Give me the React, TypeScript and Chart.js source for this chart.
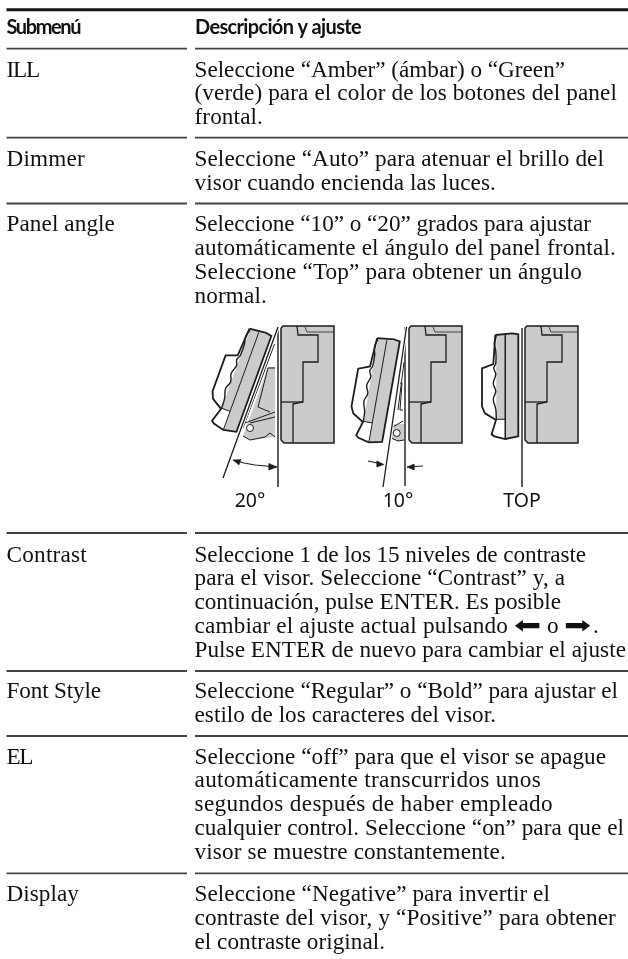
import React, { useEffect, useRef } from "react";
import { Chart, registerables } from "chart.js";

Chart.register(...registerables);

type P = [number, number];

const headers = ["Submenú", "Descripción y ajuste"];
const submenus = ["ILL", "Dimmer", "Panel angle", "Contrast", "Font Style", "EL", "Display"];
const ill = ["Seleccione “Amber” (ámbar) o “Green”", "(verde) para el color de los botones del panel", "frontal."];
const dimmer = ["Seleccione “Auto” para atenuar el brillo del", "visor cuando encienda las luces."];
const panelAngle = ["Seleccione “10” o “20” grados para ajustar", "automáticamente el ángulo del panel frontal.", "Seleccione “Top” para obtener un ángulo", "normal."];
const contrast = ["Seleccione 1 de los 15 niveles de contraste", "para el visor. Seleccione “Contrast” y, a", "continuación, pulse ENTER. Es posible", "cambiar el ajuste actual pulsando ⬅ o ➡.", "Pulse ENTER de nuevo para cambiar el ajuste"];
const fontStyle = ["Seleccione “Regular” o “Bold” para ajustar el", "estilo de los caracteres del visor."];
const el = ["Seleccione “off” para que el visor se apague", "automáticamente transcurridos unos", "segundos después de haber empleado", "cualquier control. Seleccione “on” para que el", "visor se muestre constantemente."];
const display = ["Seleccione “Negative” para invertir el", "contraste del visor, y “Positive” para obtener", "el contraste original."];
const descriptions = [ill, dimmer, panelAngle, contrast, fontStyle, el, display];
const angleLabels = ["20°", "10°", "TOP"];

// layout
const rowBaselines = [76.5, 166, 231, 561.5, 698, 763.5, 901];
const ruleLevels = [48.7, 137.7, 203.5, 533, 671, 736, 873.3];
const labelCentres = [250, 398, 522];
const headerEnds = [80, 361];
const submenuEnds = [39, 85, 115, 87, 101, 32, 79];
const lineEnds = [
  [565, 617, 263],
  [604, 496],
  [591, 616, 582, 267],
  [586, 565, 561, 508, 626],
  [618, 496],
  [606, 541, 553, 624, 506],
  [550, 616, 385],
];
const arrowLinePieceStarts = [194.5, 514, 547, 564, 593];

const bodyOutline: P[] = [[0, 2], [2, 0], [53, 0], [53, 117], [3, 117], [0, 114], [0, 2]];
const bodyStep: P[] = [[16, 0], [17, 9], [37, 9], [37, 36], [22, 36], [22, 76], [12, 78], [12, 117]];
const bodyLedge: P[] = [[0, 76], [22, 76]];
const bodySlot: P[] = [[24, 1], [26, 6], [53, 6]];
const bodyOrigins: P[] = [[281, 326], [409, 326], [525, 326]];

const panelOutline: P[] = [[-23, 1.7], [-6, 0], [0, 1], [0, 103], [-13, 105.7], [-24, 103], [-26.7, 101], [-22.3, 86.7], [-33.3, 80], [-36.3, 73.3], [-36.3, 35], [-25, 30.7], [-23, 1.7]];
const panelBand: P[] = [[-22, 2], [0, 1], [0, 103], [-13, 105.5], [-13, 86], [-22, 86], [-22, 2]];
const panelLine: P[] = [[-13, 2], [-13, 105]];
const panelRidges: P[] = [[-22, 3], [-24, 10], [-22.5, 18], [-22.5, 30], [-24.5, 35], [-22.5, 41], [-25, 50], [-22.5, 58], [-25, 66], [-22.5, 76], [-22, 86]];
const panelSeam: P[] = [[-22, 86], [-13, 86]];
const panelPlacements: { corner: P; deg: number }[] = [
  { corner: [271.7, 335], deg: 20 },
  { corner: [400, 340.5], deg: 10 },
  { corner: [518.3, 333.3], deg: 0 },
];

const plumbLines: P[][] = [
  [[278, 327], [278, 487]],
  [[405, 327], [405, 486]],
  [[522, 328], [522, 487]],
];
const tiltLines: P[][] = [
  [[278, 327], [223, 478]],
  [[406.5, 327], [383, 487]],
];
const innerTilt: P[][] = [
  [[274.5, 344], [243, 428]],
  [[404, 362], [398, 410]],
];
const mechFills: P[][] = [
  [[275, 367], [268, 367], [246, 428], [243, 436], [250, 440], [275, 437], [275, 367]],
  [[404, 424], [392, 424], [390, 438], [398, 441], [404, 440], [404, 424]],
];
const mechLines: P[][] = [
  [[275, 368], [268, 368], [258, 407], [270, 412]],
  [[245, 423], [275, 412]],
  [[250, 423], [275, 417]],
  [[243, 436], [250, 440], [265, 437], [270, 433], [275, 437]],
  [[400, 383], [402, 383], [400, 410], [403, 410]],
  [[393, 427], [403, 421]],
  [[391, 438], [398, 441], [404, 440]],
];
const arc20: P[] = [[233, 460], [244, 463], [255, 465], [266, 466], [277, 467]];
const ticks10: P[][] = [
  [[368, 461], [382, 464]],
  [[423, 466], [407, 467]],
];
const arrowHeads: P[][] = [
  [[233, 460], [241, 459.5], [239, 465], [233, 460]],
  [[277, 467], [269, 463.5], [269, 470], [277, 467]],
  [[384, 464.5], [377, 461], [377, 467], [384, 464.5]],
  [[407, 467], [414, 464], [414, 470], [407, 467]],
];
const pivots: P[] = [[250, 428], [396.7, 433]];

const GREY = "#cbcbcb";
const INK = "#1c1c1c";
const RULE = "#444444";
const SERIF = '23.2px "Liberation Serif", "DejaVu Sans"';

const shift = (pts: P[], o: P): P[] => pts.map(([x, y]) => [x + o[0], y + o[1]] as P);
const tilt = (pts: P[], corner: P, deg: number): P[] => {
  const t = (deg * Math.PI) / 180;
  return pts.map(([x, y]) => [corner[0] + x * Math.cos(t) - y * Math.sin(t), corner[1] + x * Math.sin(t) + y * Math.cos(t)] as P);
};

const stroke = (pts: P[], color = INK, width = 1.3) => ({
  data: pts.map(([x, y]) => ({ x, y })),
  showLine: true,
  borderColor: color,
  borderWidth: width,
  pointRadius: 0,
  fill: false,
  tension: 0,
  clip: false,
});
const area = (pts: P[], color: string, edge = "transparent", width = 0) => ({
  ...stroke(pts, edge, width),
  fill: "shape",
  backgroundColor: color,
});

function buildDatasets() {
  const list: any[] = [];
  list.push(stroke([[6.5, 9.7], [628, 9.7]], "#111111", 3));
  ruleLevels.forEach((y) => {
    list.push(stroke([[6.5, y], [187, y]], RULE, 1.8));
    list.push(stroke([[195, y], [628, y]], RULE, 1.8));
  });
  bodyOrigins.forEach((o) => {
    list.push(area(shift(bodyOutline, o), GREY));
    list.push(stroke(shift(bodyOutline, o), INK, 1.5));
    list.push(stroke(shift(bodyStep, o)));
    list.push(stroke(shift(bodyLedge, o)));
    list.push(stroke(shift(bodySlot, o), "#444444", 1));
  });
  mechFills.forEach((m) => list.push(area(m, GREY)));
  mechLines.forEach((m) => list.push(stroke(m, INK, 1)));
  panelPlacements.forEach(({ corner, deg }) => {
    list.push(area(tilt(panelOutline, corner, deg), "#ffffff"));
    list.push(area(tilt(panelBand, corner, deg), GREY));
    list.push(stroke(tilt(panelOutline, corner, deg), INK, 1.8));
    list.push(stroke(tilt(panelLine, corner, deg), INK, 1));
    list.push({ ...stroke(tilt(panelRidges, corner, deg), INK, 1.4), tension: 0.4 });
    list.push(stroke(tilt(panelSeam, corner, deg), INK, 1));
  });
  innerTilt.forEach((m) => list.push(stroke(m, INK, 1)));
  plumbLines.forEach((m) => list.push(stroke(m, INK, 1.4)));
  tiltLines.forEach((m) => list.push(stroke(m, "#ffffff", 3.5)));
  tiltLines.forEach((m) => list.push(stroke(m, INK, 1.3)));
  list.push(stroke(arc20, INK, 1.1));
  ticks10.forEach((m) => list.push(stroke(m, INK, 1.1)));
  arrowHeads.forEach((m) => list.push(area(m, INK, INK, 0.5)));
  list.push({
    ...stroke(pivots, "transparent", 0),
    showLine: false,
    pointRadius: 3.5,
    pointBorderColor: INK,
    pointBorderWidth: 1,
    pointBackgroundColor: "#ffffff",
  });
  return list.reverse();
}

const textPlugin = {
  id: "tableText",
  afterDatasetsDraw(chart: any) {
    const { ctx, scales } = chart;
    const X = (v: number) => scales.x.getPixelForValue(v);
    const Y = (v: number) => scales.y.getPixelForValue(v);
    const fit = (s: string, x0: number, x1: number, y: number) => {
      (ctx as any).letterSpacing = "0px";
      const natural = ctx.measureText(s).width;
      const gaps = Math.max(1, s.length);
      (ctx as any).letterSpacing = `${(x1 - x0 - natural) / gaps}px`;
      ctx.fillText(s, X(x0), Y(y));
      (ctx as any).letterSpacing = "0px";
    };
    ctx.save();
    ctx.textBaseline = "alphabetic";
    ctx.textAlign = "left";
    ctx.fillStyle = "#111111";
    ctx.font = "bold 20px Lato";
    fit(headers[0], 6.5, headerEnds[0], 33.5);
    fit(headers[1], 195, headerEnds[1], 33.5);
    ctx.font = SERIF;
    submenus.forEach((s, i) => fit(s, 6.5, submenuEnds[i], rowBaselines[i]));
    descriptions.forEach((lines, i) =>
      lines.forEach((line, j) => {
        const y = rowBaselines[i] + j * 23.9;
        if (/[⬅➡]/.test(line)) {
          const pieces = line.split(/([⬅➡])/).map((p) => p.trim());
          pieces.forEach((p, k) => {
            const x = arrowLinePieceStarts[k];
            if (/[⬅➡]/.test(p)) {
              ctx.save();
              ctx.translate(X(x), Y(y));
              ctx.scale(1.4, 1);
              ctx.fillText(p, 0, 0);
              ctx.restore();
            } else if (k === 0) {
              fit(p, x, lineEnds[i][j], y);
            } else {
              ctx.fillText(p, X(x), Y(y));
            }
          });
        } else {
          fit(line, 194.5, lineEnds[i][j], y);
        }
      })
    );
    ctx.font = '19.5px "Noto Sans"';
    ctx.textAlign = "center";
    angleLabels.forEach((s, i) => ctx.fillText(s, X(labelCentres[i]), Y(507)));
    ctx.restore();
  },
};

export default function App() {
  const ref = useRef<HTMLCanvasElement>(null);
  useEffect(() => {
    const chart = new Chart(ref.current!, {
      type: "scatter",
      data: { datasets: buildDatasets() },
      options: {
        animation: false,
        responsive: false,
        maintainAspectRatio: false,
        layout: { padding: 0, autoPadding: false },
        plugins: { legend: { display: false }, tooltip: { enabled: false }, title: { display: false } },
        scales: {
          x: { type: "linear", min: 0, max: 628, display: false },
          y: { type: "linear", min: 0, max: 959, reverse: true, display: false },
        },
      },
      plugins: [textPlugin],
    } as any);
    return () => chart.destroy();
  }, []);
  return (
    <canvas
      ref={ref}
      width={628}
      height={959}
      style={{ position: "fixed", left: 0, top: 0, width: 628, height: 959, background: "#ffffff" }}
    />
  );
}
